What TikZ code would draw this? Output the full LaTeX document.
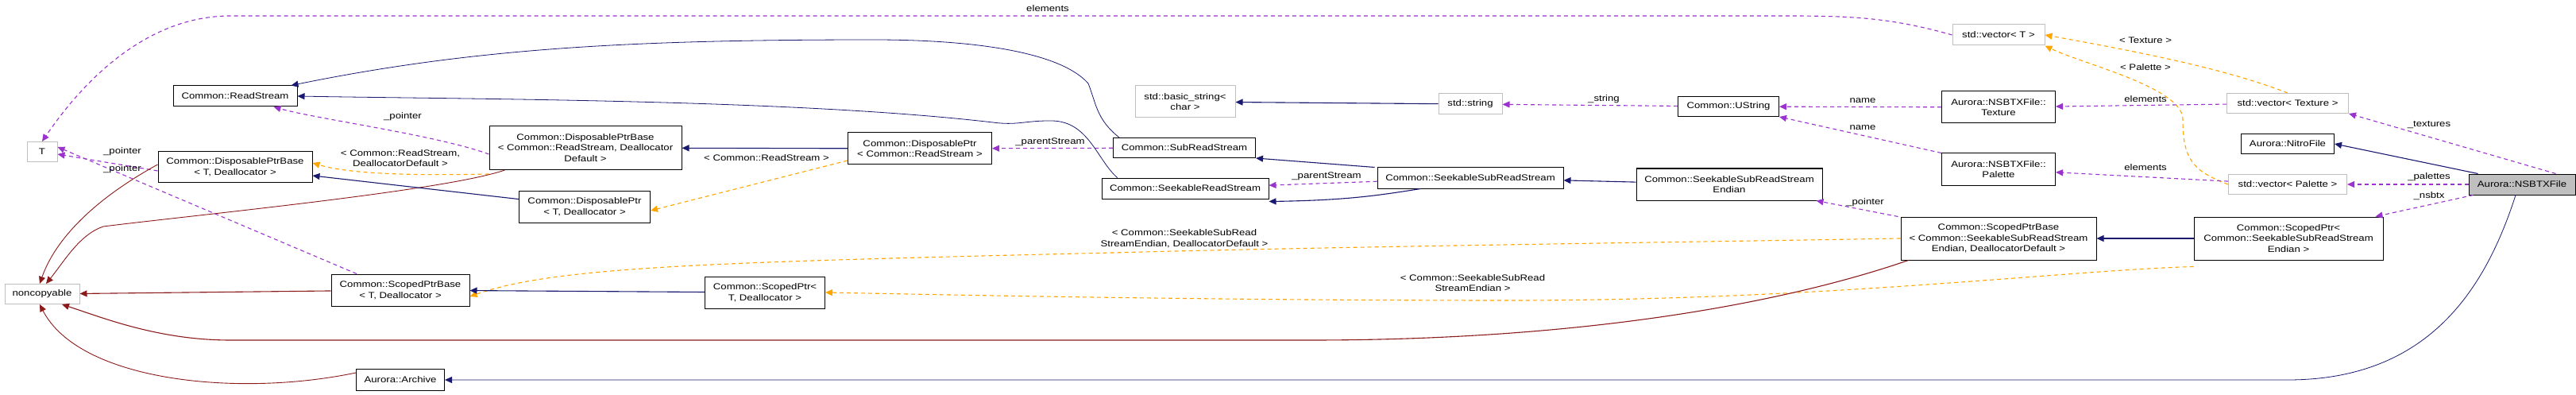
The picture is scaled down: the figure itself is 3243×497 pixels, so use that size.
\documentclass[tikz,border=0pt]{standalone}
\usepackage{fontspec}
\setmainfont[FakeStretch=1.2]{Liberation Sans}
\usetikzlibrary{arrows.meta}
\definecolor{inh}{HTML}{191970}
\definecolor{use}{HTML}{9A32CD}
\definecolor{tmpl}{HTML}{FFA500}
\definecolor{priv}{HTML}{8B1A1A}
\begin{document}
\begin{tikzpicture}[x=1pt,y=-1pt,
  box/.style={draw=black,line width=1pt,fill=white,align=center,inner sep=1pt,font=\fontsize{11}{13.5}\selectfont},
  gbox/.style={box,draw=black!25},
  lab/.style={font=\fontsize{11}{13.5}\selectfont,align=center,inner sep=1pt},
  tip/.style={-{Triangle[length=9pt,width=8pt]}},
  inhe/.style={tip,draw=inh,line width=1.1pt},
  usee/.style={tip,draw=use,line width=1.1pt,dash pattern=on 5pt off 4pt},
  tmple/.style={tip,draw=tmpl,line width=1.1pt,dash pattern=on 5pt off 4pt},
  prive/.style={tip,draw=priv,line width=1.1pt},
]
\useasboundingbox (0,0) rectangle (3243,497);
% nodes
\node[gbox,minimum width=38,minimum height=25] (T) at (53,191) {T};
\node[gbox,minimum width=94,minimum height=25] (NC) at (53,370) {noncopyable};
\node[box,minimum width=156,minimum height=26] (RS) at (296,121) {Common::ReadStream};
\node[box,minimum width=194,minimum height=39] (DPBT) at (296,210) {Common::DisposablePtrBase\\< T, Deallocator >};
\node[box,minimum width=242,minimum height=55] (DPBRS) at (737,186) {Common::DisposablePtrBase\\< Common::ReadStream, Deallocator\\Default >};
\node[box,minimum width=165,minimum height=40] (DPT) at (736,260) {Common::DisposablePtr\\< T, Deallocator >};
\node[box,minimum width=181,minimum height=40] (DPRS) at (1158,187) {Common::DisposablePtr\\< Common::ReadStream >};
\node[box,minimum width=174,minimum height=40] (SPBT) at (504,365) {Common::ScopedPtrBase\\< T, Deallocator >};
\node[box,minimum width=151,minimum height=40] (SPT) at (963,368) {Common::ScopedPtr<\\ T, Deallocator >};
\node[box,minimum width=111,minimum height=27] (AR) at (504,478) {Aurora::Archive};
\node[gbox,minimum width=126,minimum height=40] (BS) at (1492,128) {std::basic\_string<\\ char >};
\node[gbox,minimum width=80,minimum height=26] (STR) at (1851,131) {std::string};
\node[box,minimum width=127,minimum height=25] (US) at (2176,134) {Common::UString};
\node[box,minimum width=179,minimum height=25] (SRS) at (1491,186) {Common::SubReadStream};
\node[box,minimum width=210,minimum height=26] (SKRS) at (1492,237) {Common::SeekableReadStream};
\node[box,minimum width=234,minimum height=26] (SSRS) at (1851,224) {Common::SeekableSubReadStream};
\node[box,minimum width=234,minimum height=40] (SSRSE) at (2177,232) {Common::SeekableSubReadStream\\Endian};
\node[gbox,minimum width=116,minimum height=26] (VT) at (2516,44) {std::vector< T >};
\node[box,minimum width=143,minimum height=40] (TEX) at (2516,135) {Aurora::NSBTXFile::\\Texture};
\node[box,minimum width=143,minimum height=40] (PAL) at (2516,213) {Aurora::NSBTXFile::\\Palette};
\node[gbox,minimum width=153,minimum height=25] (VTEX) at (2880,130) {std::vector< Texture >};
\node[box,minimum width=117,minimum height=25] (NITRO) at (2880,181) {Aurora::NitroFile};
\node[gbox,minimum width=149,minimum height=25] (VPAL) at (2880,232) {std::vector< Palette >};
\node[box,fill=black!25,minimum width=134,minimum height=26] (NSBTX) at (3175,232) {Aurora::NSBTXFile};
\node[box,minimum width=246,minimum height=54] (SPBS) at (2516,300) {Common::ScopedPtrBase\\< Common::SeekableSubReadStream\\Endian, DeallocatorDefault >};
\node[box,minimum width=238,minimum height=54] (SPS) at (2881,300) {Common::ScopedPtr<\\Common::SeekableSubReadStream\\Endian >};
% edges
\draw[usee] (VT.west) .. controls (2380,22) and (2330,20) .. (2250,20) -- (290,20) .. controls (200,20) and (120,80) .. (T.north);
\node[lab] (l1) at (1319,11) {elements};
\draw[tmple] (VTEX.north) .. controls (2810,90) and (2720,70) .. (VT.east);
\node[lab] (l2) at (2701,51) {< Texture >};
\draw[tmple] (VPAL.west) .. controls (2760,215) and (2748,200) .. (2748,150) .. controls (2748,110) and (2620,80) .. (VT.south east);
\node[lab] (l3) at (2701,85) {< Palette >};
\draw[usee] (VTEX) -- (TEX);
\node[lab] (l4) at (2701,125) {elements};
\draw[usee] (VPAL) -- (PAL);
\node[lab] (l5) at (2701,211) {elements};
\draw[usee] (TEX) -- (US);
\node[lab] (l6) at (2345,127) {name};
\draw[usee] (PAL.north west) -- (US.south east);
\node[lab] (l7) at (2345,161) {name};
\draw[usee] (US) -- (STR);
\node[lab] (l8) at (2019,125) {\_string};
\draw[inhe] (STR) -- (BS);
\draw[usee] ([xshift=-25]NSBTX.north east) -- (VTEX.south east);
\node[lab] (l9) at (3058,157) {\_textures};
\draw[inhe] ([xshift=12]NSBTX.north west) -- (NITRO.east);
\draw[usee] (NSBTX) -- (VPAL);
\node[lab] (l10) at (3058,223) {\_palettes};
\draw[usee] ([xshift=6]NSBTX.south west) -- ([xshift=-10]SPS.north east);
\node[lab] (l11) at (3058,247) {\_nsbtx};
\draw[inhe,line width=0.8pt] ([xshift=-8]NSBTX.south) .. controls (3130,360) and (3060,478) .. (2880,478) -- (AR.east);
\draw[inhe] (SPS) -- (SPBS);
\draw[tmple] ([yshift=-8]SPS.south west) .. controls (2600,340) and (2300,378) .. (1900,378) .. controls (1500,378) and (1150,370) .. (SPT.east);
\node[lab] (l12) at (1854,356) {< Common::SeekableSubRead\\StreamEndian >};
\draw[tmple] (SPBS.west) .. controls (2100,305) and (1700,310) .. (1400,318) .. controls (900,330) and (700,335) .. ([yshift=-8]SPBT.east);
\node[lab] (l13) at (1491,300) {< Common::SeekableSubRead\\StreamEndian, DeallocatorDefault >};
\draw[usee] ([xshift=-3]SPBS.north west) -- ([xshift=-8]SSRSE.south east);
\node[lab] (l14) at (2348,255) {\_pointer};
\draw[prive] ([xshift=10]SPBS.south west) .. controls (2250,380) and (2000,428) .. (1650,428) -- (290,428) .. controls (200,428) and (130,400) .. ([xshift=25]NC.south);
\draw[inhe] (SSRSE) -- (SSRS);
\draw[inhe] ([xshift=-3]SSRS.north west) -- (SRS.south east);
\draw[usee] (SSRS) -- (SKRS);
\node[lab] (l15) at (1670,222) {\_parentStream};
\draw[inhe] ([xshift=55]SSRS.south west) .. controls (1740,245) and (1700,252) .. ([yshift=-3]SKRS.south east);
\draw[usee] (SRS) -- (DPRS);
\node[lab] (l16) at (1322,179) {\_parentStream};
\draw[inhe,line width=0.8pt] ([xshift=8]SRS.north west) .. controls (1380,150) and (1380,130) .. (1370,105) .. controls (1330,60) and (1200,50) .. (1100,50) .. controls (800,50) and (600,60) .. ([xshift=-8]RS.north east);
\draw[inhe,line width=0.8pt] ([xshift=20]SKRS.north west) .. controls (1380,200) and (1370,150) .. (1320,152) .. controls (1290,152) and (1280,158) .. (1250,154) .. controls (1000,125) and (600,125) .. (RS.east);
\draw[inhe] (DPRS) -- (DPBRS);
\node[lab] (l17) at (965,199) {< Common::ReadStream >};
\draw[tmple] ([yshift=-15]DPRS.west) -- ([yshift=-5]DPT.east);
\draw[usee] ([yshift=-8]DPBRS.west) .. controls (550,170) and (400,150) .. ([xshift=-30]RS.south east);
\node[lab] (l18) at (507,147) {\_pointer};
\draw[tmple] ([yshift=-5]DPBRS.south west) .. controls (560,220) and (450,222) .. ([yshift=5]DPBT.east);
\node[lab] (l19) at (504,199) {< Common::ReadStream,\\DeallocatorDefault >};
\draw[prive,line width=0.9pt] ([xshift=20]DPBRS.south west) .. controls (560,240) and (250,270) .. (130,285) .. controls (100,295) and (80,330) .. ([xshift=5]NC.north);
\draw[inhe] (DPT) -- (DPBT);
\draw[usee] ([yshift=-5]DPBT.west) -- ([yshift=-3]T.east);
\node[lab] (l20) at (154,191) {\_pointer};
\draw[usee] ([xshift=-55]SPBT.north) -- ([yshift=6]T.east);
\node[lab] (l21) at (154,213) {\_pointer};
\draw[prive,line width=0.9pt] ([yshift=3]DPBT.west) .. controls (120,250) and (70,300) .. ([xshift=-3]NC.north);
\draw[prive] (SPBT) -- (NC);
\draw[inhe] (SPT) -- (SPBT);
\draw[prive,line width=0.9pt] ([yshift=9]AR.west) .. controls (300,500) and (100,480) .. ([xshift=-3]NC.south);
\end{tikzpicture}
\end{document}
